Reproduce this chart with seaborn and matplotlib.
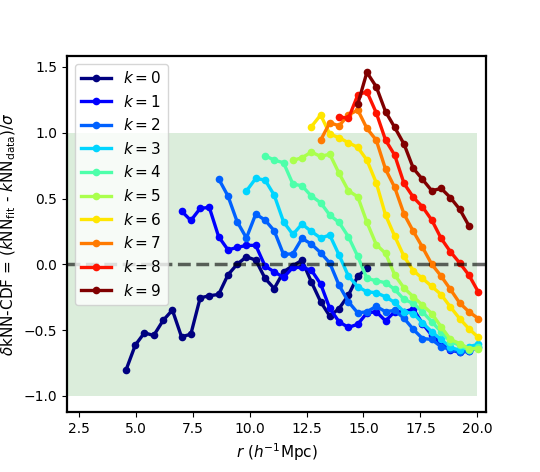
import numpy as np
import pandas as pd
import matplotlib
matplotlib.use("Agg")
import matplotlib.pyplot as plt
import seaborn as sns

# common radial grid (h^-1 Mpc)
r_grid = [4.57, 4.98, 5.38, 5.79, 6.20, 6.61, 7.01, 7.42, 7.83, 8.23,
          8.64, 9.05, 9.45, 9.86, 10.27, 10.68, 11.08, 11.49, 11.90, 12.30,
          12.71, 13.12, 13.52, 13.93, 14.34, 14.75, 15.15, 15.56, 15.97, 16.37,
          16.78, 17.19, 17.59, 18.00, 18.41, 18.82, 19.22, 19.63, 20.04]

# first grid index of each k
k_start = [0, 6, 10, 13, 15, 18, 20, 21, 23, 25]

delta_k0 = [-0.805, -0.614, -0.521, -0.541, -0.427, -0.348, -0.551, -0.531, -0.255, -0.239,
            -0.229, -0.080, 0.000, 0.057, 0.032, -0.107, -0.184, -0.057, -0.010, 0.030,
            -0.133, -0.285, -0.394, -0.336, -0.234, -0.090, -0.031]
delta_k1 = [0.405, 0.333, 0.425, 0.433, 0.210, 0.110, 0.128, 0.144, 0.144, -0.014,
            -0.057, -0.100, -0.024, -0.024, -0.044, -0.150, -0.335, -0.437, -0.480, -0.455,
            -0.370, -0.360, -0.430, -0.360, -0.360, -0.340, -0.450, -0.540, -0.600, -0.650,
            -0.670, -0.660]
delta_k2 = [0.650, 0.519, 0.325, 0.200, 0.382, 0.336, 0.255, 0.075, 0.080, 0.197,
            0.154, 0.088, 0.010, -0.160, -0.285, -0.370, -0.360, -0.320, -0.360, -0.350,
            -0.410, -0.495, -0.564, -0.571, -0.627, -0.647, -0.665, -0.660, -0.630]
delta_k3 = [0.557, 0.653, 0.640, 0.526, 0.323, 0.227, 0.306, 0.250, 0.200, 0.222,
            0.070, -0.090, -0.170, -0.209, -0.216, -0.247, -0.290, -0.361, -0.374, -0.445,
            -0.513, -0.571, -0.632, -0.652, -0.627, -0.607]
delta_k4 = [0.825, 0.792, 0.772, 0.610, 0.597, 0.519, 0.468, 0.374, 0.318, 0.209,
            0.060, -0.107, -0.125, -0.140, -0.190, -0.267, -0.297, -0.361, -0.437, -0.513,
            -0.589, -0.614, -0.652, -0.632]
delta_k5 = [0.790, 0.810, 0.853, 0.820, 0.837, 0.691, 0.559, 0.513, 0.320, 0.150,
            0.083, -0.080, -0.180, -0.247, -0.310, -0.374, -0.475, -0.571, -0.602, -0.640,
            -0.640]
delta_k6 = [1.046, 1.135, 0.990, 0.962, 0.924, 0.889, 0.792, 0.620, 0.374, 0.214,
            0.060, -0.049, -0.107, -0.168, -0.230, -0.325, -0.412, -0.490, -0.555]
delta_k7 = [0.944, 1.076, 1.053, 1.135, 1.173, 1.033, 0.944, 0.722, 0.585, 0.382,
            0.250, 0.130, 0.000, -0.090, -0.191, -0.293, -0.361, -0.412]
delta_k8 = [1.122, 1.109, 1.287, 1.312, 1.152, 0.944, 0.830, 0.615, 0.509, 0.437,
            0.336, 0.197, 0.095, 0.011, -0.082, -0.209]
delta_k9 = [1.218, 1.459, 1.350, 1.160, 1.041, 0.914, 0.729, 0.646, 0.559, 0.577,
            0.506, 0.420, 0.293]

all_deltas = [delta_k0, delta_k1, delta_k2, delta_k3, delta_k4,
              delta_k5, delta_k6, delta_k7, delta_k8, delta_k9]

# 1-sigma band
band_x = [1.98, 20.0]
band_lo, band_hi = -1.0, 1.0

colors = plt.cm.jet(np.linspace(0, 1, 10))

fig, ax = plt.subplots(figsize=(5.4, 4.72), dpi=100)
fig.subplots_adjust(left=0.124, right=0.9, bottom=0.127, top=0.881)

ax.fill_between(band_x, band_lo, band_hi, color="green", alpha=0.14, linewidth=0)

for k, (start, vals) in enumerate(zip(k_start, all_deltas)):
    df = pd.DataFrame({"r": r_grid[start:start + len(vals)], "delta": vals})
    sns.lineplot(data=df, x="r", y="delta", ax=ax, color=colors[k], marker="o",
                 markersize=5.5, markeredgewidth=0, linewidth=2.4,
                 label=f"$k = {k}$")

ax.axhline(0, color="k", ls="--", lw=2.5, alpha=0.6, zorder=5)

ax.set_xlim(1.98, 20.38)
ax.set_xticks([2.5, 5.0, 7.5, 10.0, 12.5, 15.0, 17.5, 20.0])
ax.set_yticks([-1.0, -0.5, 0.0, 0.5, 1.0, 1.5])
for sp in ax.spines.values():
    sp.set_linewidth(1.6)

ax.set_xlabel(r"$r$ ($h^{-1}$Mpc)", fontsize=11)
ax.set_ylabel(r"$\delta$kNN-CDF = ($k$NN$_{\rm fit}$ - $k$NN$_{\rm data}$)/$\sigma$", fontsize=11)
ax.legend(loc="upper left", fontsize=11)

plt.savefig("out.png", dpi=100)
plt.close()
